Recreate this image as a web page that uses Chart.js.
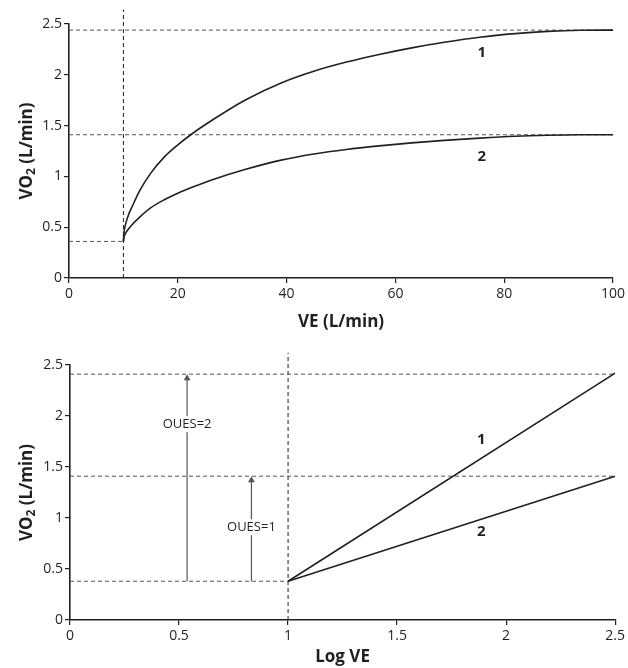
<!DOCTYPE html>
<html>
<head>
<meta charset="utf-8">
<script src="https://cdn.jsdelivr.net/npm/chart.js@4.4.1/dist/chart.umd.min.js"></script>
<style>
    body { margin: 0; background: #fff; }
    #wrap { position: relative; width: 628px; height: 668px; }
    canvas { position: absolute; left: 0; }
</style>
</head>
<body>
<div id="wrap">
    <canvas id="veChart" width="628" height="335" style="top:0"></canvas>
    <canvas id="logChart" width="628" height="333" style="top:335px"></canvas>
</div>
<script>
// Top panel: VO2 vs VE
const veValues = [10, 10.1, 10.25, 10.5, 11, 11.5, 13, 15, 17.5, 20, 22.5, 26.5, 32.5, 39, 45, 51, 57, 63, 69, 75.5, 82, 88, 94, 100];
const curve1 = [0.36, 0.445, 0.495, 0.55, 0.63, 0.69, 0.86, 1.03, 1.19, 1.31, 1.415, 1.56, 1.755, 1.92, 2.035, 2.125, 2.20, 2.265, 2.32, 2.37, 2.405, 2.427, 2.438, 2.44];
const curve2 = [0.36, 0.40, 0.424, 0.45, 0.487, 0.52, 0.60, 0.69, 0.77, 0.835, 0.89, 0.97, 1.07, 1.16, 1.22, 1.265, 1.30, 1.33, 1.355, 1.377, 1.395, 1.405, 1.41, 1.41];
const veLevels = [2.44, 1.41];
const veBase = 0.36;
const veStart = 10;

// Bottom panel: VO2 vs log VE
const logVe = [1, 2.5];
const line1 = [0.38, 2.42];
const line2 = [0.38, 1.41];
const logLevels = [2.41, 1.41];
const logBase = 0.38;
const logStart = 1;
const arrowX = [0.537, 0.832];
const arrowTop = [2.37, 1.37];
const arrowText = ['OUES=2', 'OUES=1'];
const arrowTextY = [1.92, 0.91];

// curve number labels
const topLabels = [{x: 75.9, y: 2.22, t: '1'}, {x: 75.9, y: 1.19, t: '2'}];
const bottomLabels = [{x: 1.886, y: 1.77, t: '1'}, {x: 1.886, y: 0.866, t: '2'}];

const INK = '#231f20';
const FONT = '"Open Sans", "DejaVu Sans", sans-serif';

function seg(x0, y0, x1, y1) {
    return [{x: x0, y: y0}, {x: x1, y: y1}];
}

function dashed(data, color, clip) {
    return {
        data: data, borderColor: color, borderWidth: 1, borderDash: [4, 3],
        pointRadius: 0, clip: clip === undefined ? true : clip
    };
}

function solid(data) {
    return {
        data: data, borderColor: INK, borderWidth: 1.6, pointRadius: 0,
        cubicInterpolationMode: 'monotone'
    };
}

// draws curve labels, arrow texts and axis titles
const textPlugin = {
    id: 'textPlugin',
    afterDatasetsDraw(chart, args, opts) {
        const ctx = chart.ctx;
        const xs = chart.scales.x, ys = chart.scales.y;
        const area = chart.chartArea;
        ctx.save();
        ctx.textAlign = 'center';
        ctx.textBaseline = 'middle';
        ctx.fillStyle = INK;

        ctx.font = 'bold 15px ' + FONT;
        (opts.labels || []).forEach(l => {
            ctx.fillText(l.t, xs.getPixelForValue(l.x), ys.getPixelForValue(l.y));
        });

        ctx.font = '13px ' + FONT;
        (opts.boxed || []).forEach(l => {
            const px = xs.getPixelForValue(l.x), py = ys.getPixelForValue(l.y);
            const w = ctx.measureText(l.t).width;
            ctx.fillStyle = '#fff';
            ctx.fillRect(px - w / 2 - 2, py - 8, w + 4, 16);
            ctx.fillStyle = INK;
            ctx.fillText(l.t, px, py);
        });

        // x title
        ctx.font = 'bold 17px ' + FONT;
        ctx.fillText(opts.xTitle, (area.left + area.right) / 2, area.bottom + opts.xTitleGap);

        // y title with subscript
        ctx.translate(27, (area.top + area.bottom) / 2);
        ctx.rotate(-Math.PI / 2);
        ctx.textAlign = 'left';
        const big = 'bold 17px ' + FONT, small = 'bold 12px ' + FONT;
        ctx.font = big;
        const wVO = ctx.measureText('VO').width;
        const wRest = ctx.measureText(' (L/min)').width;
        ctx.font = small;
        const w2 = ctx.measureText('2').width;
        let x = -(wVO + w2 + wRest) / 2;
        ctx.font = big;
        ctx.fillText('VO', x, 0);
        x += wVO;
        ctx.font = small;
        ctx.fillText('2', x, 5);
        x += w2;
        ctx.font = big;
        ctx.fillText(' (L/min)', x, 0);
        ctx.restore();
    }
};

function axes(xMax, xStep, yWidth, xHeight) {
    const tickFont = {family: FONT, size: 14};
    const plain = v => String(Math.round(v * 100) / 100);
    return {
        x: {
            type: 'linear', min: 0, max: xMax,
            ticks: {stepSize: xStep, color: INK, font: tickFont, padding: 3, maxRotation: 0, callback: plain},
            grid: {drawOnChartArea: false, drawTicks: true, tickLength: 5, color: INK, lineWidth: 1.2},
            border: {display: true, color: INK, width: 1.6},
            afterFit: s => { s.height = xHeight; }
        },
        y: {
            type: 'linear', min: 0, max: 2.5,
            ticks: {stepSize: 0.5, color: INK, font: tickFont, padding: 2, callback: plain},
            grid: {drawOnChartArea: false, drawTicks: true, tickLength: 5, color: INK, lineWidth: 1.2},
            border: {display: true, color: INK, width: 1.6},
            afterFit: s => { s.width = yWidth; }
        }
    };
}

const baseOptions = {
    responsive: false,
    animation: false,
    events: [],
    plugins: {legend: {display: false}, tooltip: {enabled: false}}
};

document.addEventListener('DOMContentLoaded', function () {
    const topSets = [
        solid(veValues.map((v, i) => ({x: v, y: curve1[i]}))),
        solid(veValues.map((v, i) => ({x: v, y: curve2[i]})))
    ];
    veLevels.forEach(l => topSets.push(dashed(seg(0, l, 100, l), '#555')));
    topSets.push(dashed(seg(0, veBase, veStart, veBase), '#555'));
    topSets.push(dashed(seg(veStart, 0, veStart, 2.64), INK, false));

    new Chart(document.getElementById('veChart').getContext('2d'), {
        type: 'line',
        data: {datasets: topSets},
        options: Object.assign({}, baseOptions, {
            layout: {padding: {top: 24, right: 15, left: 0, bottom: 0}},
            scales: axes(100, 20, 69, 57),
            plugins: Object.assign({}, baseOptions.plugins, {
                textPlugin: {labels: topLabels, xTitle: 'VE (L/min)', xTitleGap: 44}
            })
        }),
        plugins: [textPlugin]
    });

    const bottomSets = [
        solid(logVe.map((v, i) => ({x: v, y: line1[i]}))),
        solid(logVe.map((v, i) => ({x: v, y: line2[i]})))
    ];
    arrowX.forEach((ax, i) => {
        bottomSets.push({
            data: seg(ax, logBase, ax, arrowTop[i]),
            borderColor: '#555', borderWidth: 1.2,
            pointRadius: [0, 4], pointStyle: 'triangle',
            pointBackgroundColor: '#555', pointBorderColor: '#555', pointBorderWidth: 0
        });
    });
    logLevels.forEach(l => bottomSets.push(dashed(seg(0, l, 2.5, l), '#555')));
    bottomSets.push(dashed(seg(0, logBase, logStart, logBase), '#555'));
    bottomSets.push(dashed(seg(logStart, 0, logStart, 2.62), INK, false));

    new Chart(document.getElementById('logChart').getContext('2d'), {
        type: 'line',
        data: {datasets: bottomSets},
        options: Object.assign({}, baseOptions, {
            layout: {padding: {top: 30, right: 12, left: 0, bottom: 0}},
            scales: axes(2.5, 0.5, 70, 48),
            plugins: Object.assign({}, baseOptions.plugins, {
                textPlugin: {
                    labels: bottomLabels,
                    boxed: arrowX.map((ax, i) => ({x: ax, y: arrowTextY[i], t: arrowText[i]})),
                    xTitle: 'Log VE', xTitleGap: 37
                }
            })
        }),
        plugins: [textPlugin]
    });
});
</script>
</body>
</html>
